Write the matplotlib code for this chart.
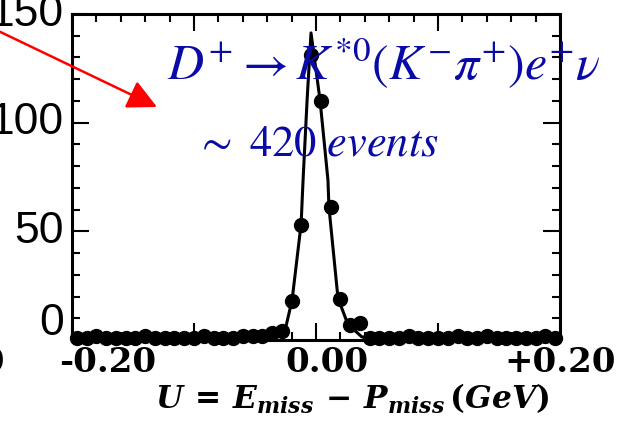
import numpy as np
import matplotlib
matplotlib.use('Agg')
import matplotlib.pyplot as plt
from matplotlib.ticker import MultipleLocator

# bold serif math for the axis title, stix is picked per text for the decay label
plt.rcParams['mathtext.fontset'] = 'custom'
plt.rcParams['mathtext.it'] = 'DejaVu Serif:italic:bold'
plt.rcParams['mathtext.rm'] = 'DejaVu Serif:bold'
plt.rcParams['mathtext.bf'] = 'DejaVu Serif:bold'

# histogram of U, 50 bins of 8 MeV between -0.2 and +0.2 GeV
binCenters = np.arange(50) * 0.008 - 0.196
counts = [1, 1, 2, 1, 1, 1, 1, 2, 1, 1,
          1, 1, 1, 2, 1, 1, 1, 2, 2, 2,
          3, 4, 18, 53, 131, 110, 61, 19, 7, 8,
          1, 1, 1, 1, 2, 1, 1, 1, 1, 2,
          1, 1, 2, 1, 1, 1, 1, 1, 2, 1]

# fitted signal shape
fitX = [-0.20, -0.10, -0.05, -0.035, -0.029, -0.0253, -0.0196, -0.0122, -0.0106,
        -0.0073, -0.0041, 0.0033, 0.0098, 0.0106, 0.018, 0.026, 0.0376, 0.048,
        0.10, 0.20]
fitY = [0.8, 0.9, 1.0, 1.2, 1.8, 4.6, 18.4, 53.4, 73.6,
        110.4, 141.3, 110.4, 73.6, 61.2, 19.3, 7.4, 1.4, 0.6,
        0.6, 0.6]

yTicks = [0, 50, 100, 150]
xTickVals = [-0.2, 0.0, 0.2]
xTickText = ['-0.20', '0.00', '+0.20']
xTickShift = [26, 8, 0]   # points, labels sit a bit right of their ticks

W, H = 624, 423
fig = plt.figure(figsize=(W/100, H/100), dpi=100)
ax = fig.add_axes([72/W, 1-340/H, (560-72)/W, (340-14)/H])

ax.plot(fitX, fitY, color='black', lw=2.2, zorder=3, clip_on=False)
ax.plot(binCenters, counts, 'o', color='black', ms=10, zorder=4, clip_on=False)

ax.set_xlim(-0.2, 0.2)
ax.set_ylim(0, 150)
ax.xaxis.set_major_locator(MultipleLocator(0.1))
ax.xaxis.set_minor_locator(MultipleLocator(0.02))
ax.yaxis.set_major_locator(MultipleLocator(50))
ax.yaxis.set_minor_locator(MultipleLocator(10))
ax.tick_params(which='both', direction='in', top=True, right=True,
               labelbottom=False, labelleft=False, width=1.5)
ax.tick_params(which='major', length=12)
ax.tick_params(which='minor', length=5.8)
for s in ax.spines.values():
    s.set_linewidth(2.2)

# y labels, the zero is lifted clear of the x labels
for v in yTicks:
    dy = 12 if v == 0 else 0
    ax.annotate(str(v), xy=(0, v), xycoords=('axes fraction', 'data'),
                xytext=(-6, dy), textcoords='offset points',
                ha='right', va='center', fontsize=32, family='Liberation Sans',
                annotation_clip=False)

for v, t, dx in zip(xTickVals, xTickText, xTickShift):
    ax.annotate(t, xy=(v, 0), xycoords=('data', 'axes fraction'),
                xytext=(dx, -16), textcoords='offset points',
                ha='center', va='center', fontsize=24.5, family='DejaVu Serif',
                weight='bold', annotation_clip=False)

# neighbouring panel's last label
fig.text(5/W, 1-362/H, '+0.20', ha='right', va='center', fontsize=24.5,
         family='DejaVu Serif', weight='bold')

fig.text(352/W, 1-409/H, r'$U\,=\,E_{miss}\,-\,P_{miss}\,(GeV)$',
         ha='center', va='baseline', fontsize=22.5)

blue = '#0A0AA6'
fig.text(167/W, 1-80/H, r'$D^{+}\rightarrow K^{*0}(K^{-}\pi^{+})e^{+}\nu$',
         ha='left', va='baseline', fontsize=36, color=blue, math_fontfamily='stix')
fig.text(195/W, 1-155/H, r'$\sim\ 420\ \mathit{events}$',
         ha='left', va='baseline', fontsize=32, color=blue, math_fontfamily='stix')

# arrow coming in from the left panel
fig.patches.append(matplotlib.patches.FancyArrowPatch(
    (-10/W, 1-27/H), (157/W, 1-107/H), transform=fig.transFigure,
    arrowstyle='-|>,head_length=0.9,head_width=0.45', mutation_scale=20,
    color='red', lw=1.8, zorder=10, shrinkA=0, shrinkB=0))

fig.savefig('out.png', dpi=100)
